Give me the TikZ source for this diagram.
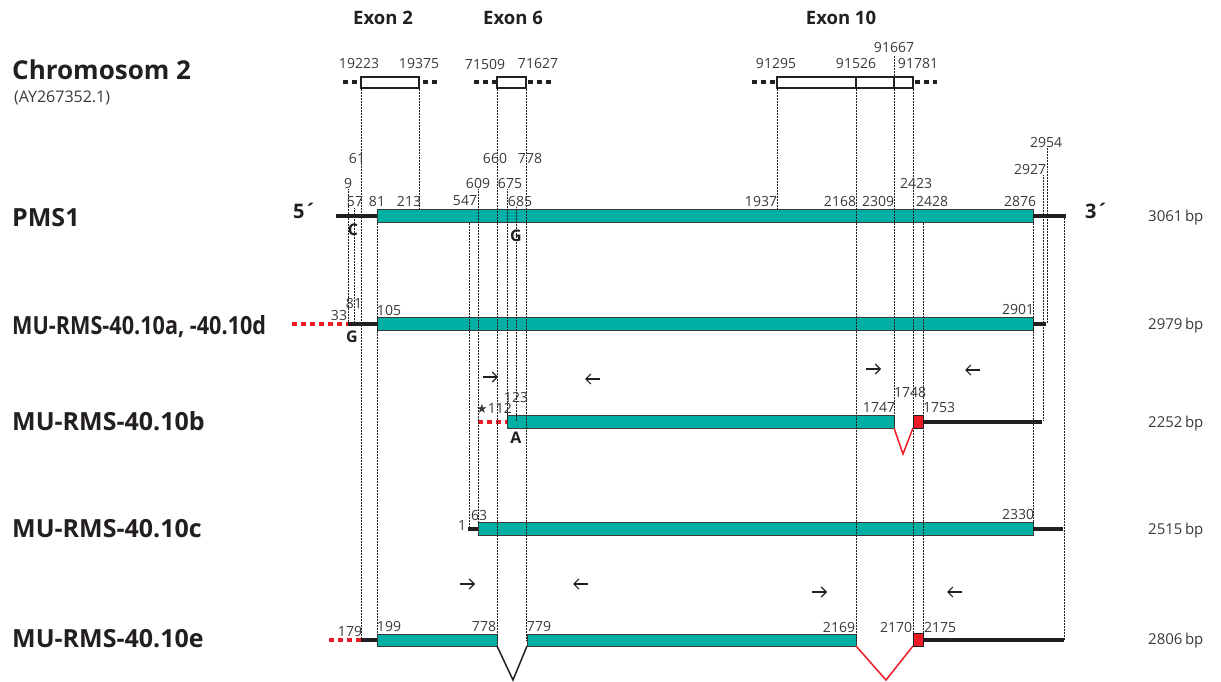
\documentclass[tikz,border=0pt]{standalone}
\usepackage{fontspec}
\setmainfont{Open Sans}
\newfontfamily\symfont{DejaVu Sans}
\usetikzlibrary{arrows.meta}
\definecolor{exonteal}{HTML}{00B0A4}
\definecolor{mutred}{HTML}{ED1C24}
\definecolor{txtgray}{HTML}{3A3A3A}
\definecolor{utrblack}{HTML}{231F20}
\begin{document}
\begin{tikzpicture}[x=1pt,y=-1pt,
  num/.style={font=\fontsize{14}{14}\selectfont,text=txtgray,inner sep=0pt},
  nuc/.style={font=\fontsize{16}{16}\selectfont\bfseries,text=utrblack,inner sep=0pt},
  exonhead/.style={font=\fontsize{18.5}{18.5}\selectfont\bfseries,text=utrblack,inner sep=0pt},
  rowname/.style={font=\fontsize{25}{25}\selectfont\bfseries,text=utrblack,anchor=base west,inner sep=0pt},
  bplabel/.style={font=\fontsize{15}{15}\selectfont,text=txtgray,anchor=base west,inner sep=0pt},
  primer/.style={utrblack,line width=1.1pt,-{Straight Barb[length=5pt,width=10pt]}},
  cds/.style={fill=exonteal,draw=txtgray,line width=0.8pt},
  utr/.style={utrblack,line width=4pt},
  ext/.style={mutred,line width=4pt,dash pattern=on 5pt off 4pt},
  chr/.style={fill=white,draw=utrblack,line width=1.2pt},
  chrdots/.style={utrblack,line width=4pt,dash pattern=on 5pt off 4pt},
  guide/.style={utrblack,line width=0.5pt,densely dotted},
  splice/.style={line width=1.5pt}]
\useasboundingbox (0,0) rectangle (1221,682);
\node[exonhead] (ex2) at (383,18) {Exon 2};
\node[exonhead] (ex6) at (513,18) {Exon 6};
\node[exonhead] (ex10) at (841,18) {Exon 10};
\node[font=\fontsize{26}{26}\selectfont\bfseries,text=utrblack,anchor=base west,inner sep=0pt] (chrom) at (12,80) {Chromosom 2};
\node[font=\fontsize{16}{16}\selectfont,text=txtgray,anchor=base west,inner sep=0pt] (acc) at (14,103) {(AY267352.1)};
\draw[chrdots] (343,82.5) -- (357,82.5);
\draw[chrdots] (423,82.5) -- (437,82.5);
\draw[chrdots] (474,82.5) -- (497,82.5);
\draw[chrdots] (528,82.5) -- (551,82.5);
\draw[chrdots] (752,82.5) -- (775,82.5);
\draw[chrdots] (915,82.5) -- (937,82.5);
\draw[chr] (361,77) rectangle (419,88);
\draw[chr] (497,77) rectangle (526,88);
\draw[chr] (777,77) rectangle (913,88);
\draw[utrblack,line width=1.2pt] (856,77) -- (856,88);
\draw[utrblack,line width=1.2pt] (894,77) -- (894,88);
\draw[utr] (336,216) -- (377,216);
\draw[cds] (377,209.5) rectangle (1033,222.5);
\draw[utr] (1033,216) -- (1066,216);
\draw[ext] (292,323.5) -- (348,323.5);
\draw[utr] (348,323.5) -- (377,323.5);
\draw[cds] (377,317.5) rectangle (1033,330.5);
\draw[utr] (1033,323.5) -- (1046,323.5);
\draw[ext] (478,421.5) -- (507,421.5);
\draw[cds] (507,415) rectangle (894,428);
\draw[splice,mutred] (894,428) -- (903,454) -- (913,428);
\draw[fill=mutred,draw=utrblack,line width=0.8pt] (913,415) rectangle (923,428);
\draw[utr] (923,421.5) -- (1042,421.5);
\draw[utr] (468,529) -- (478,529);
\draw[cds] (478,522.5) rectangle (1033,535.5);
\draw[utr] (1033,529) -- (1063,529);
\draw[ext] (329,640) -- (361,640);
\draw[utr] (361,640) -- (377,640);
\draw[cds] (377,634) rectangle (497,646);
\draw[splice,utrblack] (497,646) -- (513,680) -- (527,646);
\draw[cds] (527,634) rectangle (856,646);
\draw[splice,mutred] (856,646) -- (886,680) -- (913,646);
\draw[fill=mutred,draw=utrblack,line width=0.8pt] (913,633) rectangle (923,646);
\draw[utr] (923,640) -- (1064,640);
\draw[guide] (361,89) -- (361,640);
\draw[guide] (419,89) -- (419,209.5);
\draw[guide] (497,89) -- (497,640);
\draw[guide] (526.5,89) -- (526.5,640);
\draw[guide] (777,89) -- (777,209.5);
\draw[guide] (856,89) -- (856,640);
\draw[guide] (894,56) -- (894,421);
\draw[guide] (913,89) -- (913,640);
\draw[guide] (348,189) -- (348,323);
\draw[guide] (354,208) -- (354,323);
\draw[guide] (377,222.5) -- (377,634);
\draw[guide] (469,222.5) -- (469,529);
\draw[guide] (478,189) -- (478,522.5);
\draw[guide] (507,189) -- (507,421);
\draw[guide] (516,207) -- (516,421);
\draw[guide] (923,222.5) -- (923,640);
\draw[guide] (1033,222.5) -- (1033,529);
\draw[guide] (1043,175) -- (1043,421);
\draw[guide] (1047,148) -- (1047,323);
\draw[guide] (1064,216) -- (1064,640);
\node[num] (c19223) at (359,64) {19223};
\node[num] (c19375) at (419,64) {19375};
\node[num] (c71509) at (485,64) {71509};
\node[num] (c71627) at (538,64) {71627};
\node[num] (c91295) at (776,64) {91295};
\node[num] (c91526) at (856,64) {91526};
\node[num] (c91667) at (894,48) {91667};
\node[num] (c91781) at (918,64) {91781};
\node[rowname] (pms) at (12,226) {PMS1};
\node[font=\fontsize{20}{20}\selectfont\bfseries,text=utrblack,inner sep=0pt] (fivep) at (305,211) {5´};
\node[font=\fontsize{20}{20}\selectfont\bfseries,text=utrblack,inner sep=0pt] (threep) at (1097,211) {3´};
\node[num] (p61) at (357,158) {61};
\node[num] (p660) at (495,158) {660};
\node[num] (p778) at (530,158) {778};
\node[num] (p9) at (348,183) {9};
\node[num] (p609) at (478,183) {609};
\node[num] (p675) at (510,183) {675};
\node[num] (p57) at (355,202) {57};
\node[num] (p81) at (377,201) {81};
\node[num] (p213) at (409,201) {213};
\node[num] (p547) at (465,201) {547};
\node[num] (p685) at (520,201) {685};
\node[num] (p1937) at (761,201) {1937};
\node[num] (p2168) at (840,201) {2168};
\node[num] (p2309) at (878,201) {2309};
\node[num] (p2423) at (916,183) {2423};
\node[num] (p2428) at (932,201) {2428};
\node[num] (p2876) at (1020,201) {2876};
\node[num] (p2927) at (1030,169) {2927};
\node[num] (p2954) at (1046,143) {2954};
\node[nuc] (pc) at (353,230) {C};
\node[nuc] (pg) at (516,236) {G};
\node[bplabel] (bp1) at (1148,221) {3061\,bp};
\node[rowname] (mua) at (12,334) {\scalebox{0.865}[1]{MU-RMS-40.10a, -40.10d}};
\node[num] (a33) at (339,315) {33};
\node[num] (a81) at (354,303) {81};
\node[num] (a105) at (389,310) {105};
\node[num] (a2901) at (1018,309) {2901};
\node[nuc] (ag) at (352,337) {G};
\node[bplabel] (bp2) at (1148,329) {2979\,bp};
\draw[primer] (483,377) -- (498,377);
\draw[primer] (600,379) -- (585,379);
\draw[primer] (866,369) -- (881,369);
\draw[primer] (980,370) -- (965,370);
\node[rowname] (mub) at (12,430) {MU-RMS-40.10b};
\node[num] (b112) at (494,408) {{\symfont\fontsize{13}{13}\selectfont★}112};
\node[num] (b123) at (516,397) {123};
\node[num] (b1747) at (879,407) {1747};
\node[num] (b1748) at (910,392) {1748};
\node[num] (b1753) at (939,407) {1753};
\node[nuc] (ba) at (516,438) {A};
\node[bplabel] (bp3) at (1148,427) {2252\,bp};
\node[rowname] (muc) at (12,537) {MU-RMS-40.10c};
\node[num] (c1) at (462,525) {1};
\node[num] (c63) at (479,515) {63};
\node[num] (c2330) at (1018,514) {2330};
\node[bplabel] (bp4) at (1148,534) {2515\,bp};
\draw[primer] (460,584) -- (475,584);
\draw[primer] (588,584) -- (573,584);
\draw[primer] (812,592) -- (827,592);
\draw[primer] (962,592) -- (947,592);
\node[rowname] (mue) at (12,647) {MU-RMS-40.10e};
\node[num] (e179) at (350,631) {179};
\node[num] (e199) at (389,626) {199};
\node[num] (e778) at (484,626) {778};
\node[num] (e779) at (539,626) {779};
\node[num] (e2169) at (839,627) {2169};
\node[num] (e2170) at (896,627) {2170};
\node[num] (e2175) at (940,627) {2175};
\node[bplabel] (bp5) at (1148,644) {2806\,bp};
\end{tikzpicture}
\end{document}
